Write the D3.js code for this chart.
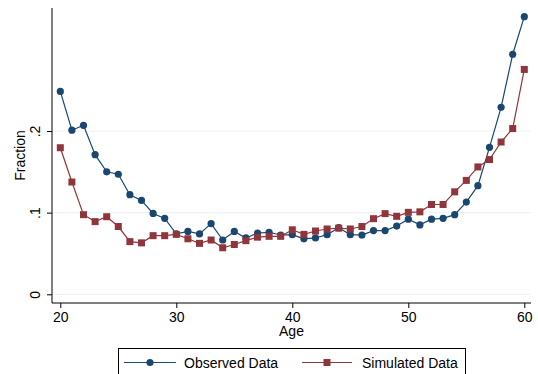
<!DOCTYPE html>
<html>
<head>
<meta charset="utf-8">
<script src="https://cdn.jsdelivr.net/npm/d3@7"></script>
<style>
	body { margin: 0; background: #fff; }
	svg { display: block; font-family: "Liberation Sans", Arial, sans-serif; }
</style>
</head>
<body>
<div id="chart"></div>
<script>
const ages = d3.range(20, 61);

const observed = [
	0.2485, 0.201, 0.207, 0.171, 0.150, 0.147, 0.122, 0.115, 0.099, 0.093,
	0.074, 0.077, 0.074, 0.0865, 0.0665, 0.077, 0.069, 0.075, 0.076, 0.0726,
	0.073, 0.068, 0.069, 0.073, 0.0816, 0.073, 0.0726, 0.078, 0.078, 0.0836,
	0.092, 0.085, 0.092, 0.093, 0.0975, 0.113, 0.133, 0.180, 0.229, 0.294,
	0.340
];

const simulated = [
	0.1795, 0.1375, 0.0975, 0.089, 0.095, 0.083, 0.0645, 0.063, 0.0718, 0.0718,
	0.0734, 0.068, 0.0624, 0.0665, 0.057, 0.061, 0.0657, 0.070, 0.071, 0.071,
	0.079, 0.0734, 0.0775, 0.080, 0.081, 0.080, 0.083, 0.0926, 0.0988, 0.0955,
	0.1004, 0.101, 0.110, 0.110, 0.1255, 0.1395, 0.156, 0.165, 0.1865, 0.203,
	0.2754
];

const x_ticks = [20, 30, 40, 50, 60];
const y_ticks = [0, 0.1, 0.2];
const y_labels = ['0', '.1', '.2'];
const series_names = ['Observed Data', 'Simulated Data'];

const width = 538;
const height = 374;
const blue = '#1a476f';
const red = '#90353b';
const grid = '#eaf2f3';

const plot = { left: 52, right: 531, top: 8, bottom: 303 };

const x = d3.scaleLinear().domain([20, 60]).range([60.3, 524.3]);
const y = d3.scaleLinear().domain([0, 0.2]).range([294.3, 131]);

const svg = d3.select('#chart').append('svg')
	.attr('width', width)
	.attr('height', height);

// gridlines
svg.append('g')
	.selectAll('line')
	.data(y_ticks)
	.enter()
	.append('line')
	.attr('x1', plot.left)
	.attr('x2', plot.right)
	.attr('y1', d => y(d))
	.attr('y2', d => y(d))
	.style('stroke', grid)
	.style('stroke-width', 1);

// axes
const x_axis = svg.append('g')
	.attr('transform', `translate(0,${plot.bottom})`)
	.call(d3.axisBottom(x).tickValues(x_ticks).tickSize(5).tickPadding(4).tickSizeOuter(0));
x_axis.select('.domain').attr('d', `M${plot.left},0H${plot.right}`).style('stroke', '#000');
x_axis.selectAll('text').style('font-size', '14px').style('fill', '#000');

const y_axis = svg.append('g')
	.attr('transform', `translate(${plot.left},0)`)
	.call(d3.axisLeft(y).tickValues(y_ticks).tickSize(5).tickFormat((d, i) => y_labels[i]));
y_axis.select('.domain').attr('d', `M0,${plot.top}V${plot.bottom}`).style('stroke', '#000');
y_axis.selectAll('text')
	.attr('x', null)
	.attr('dy', null)
	.attr('transform', 'translate(-12,0) rotate(-90)')
	.attr('text-anchor', 'middle')
	.style('font-size', '14px')
	.style('fill', '#000');

// axis titles
svg.append('text')
	.attr('transform', `translate(25,${(plot.top + plot.bottom) / 2}) rotate(-90)`)
	.attr('text-anchor', 'middle')
	.style('font-size', '14px')
	.text('Fraction');

svg.append('text')
	.attr('x', (plot.left + plot.right) / 2)
	.attr('y', 336)
	.attr('text-anchor', 'middle')
	.style('font-size', '14px')
	.text('Age');

const line = d3.line()
	.x((d, i) => x(ages[i]))
	.y(d => y(d));

// observed
svg.append('path')
	.datum(observed)
	.attr('d', line)
	.style('fill', 'none')
	.style('stroke', blue)
	.style('stroke-width', 1.2);

svg.append('g')
	.selectAll('circle')
	.data(observed)
	.enter()
	.append('circle')
	.attr('cx', (d, i) => x(ages[i]))
	.attr('cy', d => y(d))
	.attr('r', 3.6)
	.style('fill', blue);

// simulated
svg.append('path')
	.datum(simulated)
	.attr('d', line)
	.style('fill', 'none')
	.style('stroke', red)
	.style('stroke-width', 1.2);

const sq = 7;
svg.append('g')
	.selectAll('rect')
	.data(simulated)
	.enter()
	.append('rect')
	.attr('x', (d, i) => x(ages[i]) - sq / 2)
	.attr('y', d => y(d) - sq / 2)
	.attr('width', sq)
	.attr('height', sq)
	.style('fill', red);

// legend
const legend = svg.append('g');
legend.append('rect')
	.attr('x', 118.5)
	.attr('y', 348.5)
	.attr('width', 347)
	.attr('height', 40)
	.style('fill', '#fff')
	.style('stroke', '#000')
	.style('stroke-width', 1);

const legend_items = [
	{ name: series_names[0], colour: blue, x1: 124, x2: 176, tx: 184, shape: 'circle' },
	{ name: series_names[1], colour: red, x1: 302, x2: 352, tx: 362, shape: 'square' },
];
const ly = 362.5;

legend_items.forEach(item => {
	legend.append('line')
		.attr('x1', item.x1)
		.attr('x2', item.x2)
		.attr('y1', ly)
		.attr('y2', ly)
		.style('stroke', item.colour)
		.style('stroke-width', 1.2);
	const mx = (item.x1 + item.x2) / 2;
	if (item.shape == 'circle') {
		legend.append('circle')
			.attr('cx', mx)
			.attr('cy', ly)
			.attr('r', 3.6)
			.style('fill', item.colour);
	} else {
		legend.append('rect')
			.attr('x', mx - sq / 2)
			.attr('y', ly - sq / 2)
			.attr('width', sq)
			.attr('height', sq)
			.style('fill', item.colour);
	}
	legend.append('text')
		.attr('x', item.tx)
		.attr('y', ly + 5)
		.style('font-size', '14px')
		.text(item.name);
});
</script>
</body>
</html>
